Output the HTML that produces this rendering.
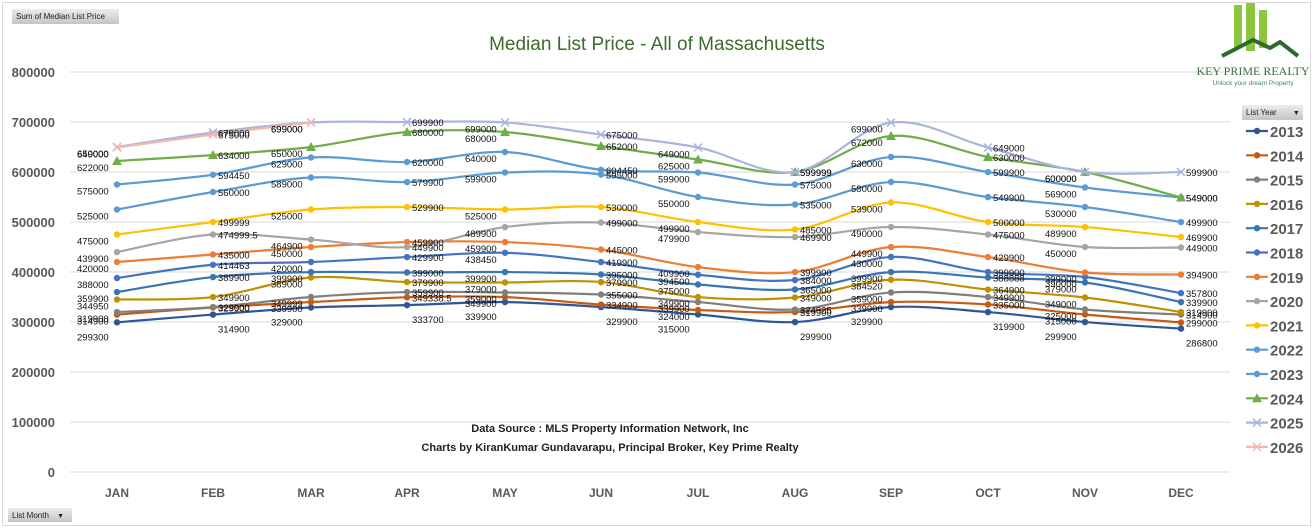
<!DOCTYPE html>
<html><head><meta charset="utf-8"><style>
body{margin:0;background:#fff;width:1313px;height:528px;overflow:hidden;font-family:"Liberation Sans",sans-serif}
.btn{position:absolute;background:linear-gradient(#ececec,#c4c4c4);font-size:8px;color:#222;padding:2px 4px;box-sizing:border-box;white-space:nowrap;overflow:hidden;line-height:11px}
</style></head><body>
<div style="position:absolute;left:2px;top:2px;width:1309px;height:524px;border:1px solid #d9d9d9;box-sizing:border-box"></div>
<div class="btn" style="left:12px;top:9px;width:107px;height:15px">Sum of Median List Price</div>
<div class="btn" style="left:8px;top:508px;width:64px;height:14px">List Month <span style="font-size:7px;margin-left:6px">▼</span></div>
<div class="btn" style="left:1242px;top:105px;width:61px;height:15px">List Year <span style="font-size:7px;margin-left:14px">▼</span></div>
<svg id="s" width="1313" height="528" style="position:absolute;left:0;top:0"></svg>
<script>
var X=[117,213,311,407,505,601,698,795,891,988,1085,1181];
function Y(v){return 472-v/2000;}
var S=[
["2013","#2f5597","o",[299300,314900,329000,333700,339900,329900,315000,299900,329900,319900,299900,286800]],
["2014","#c55a11","o",[314900,329000,339900,349338.5,349900,334900,324000,319900,339900,335000,315000,299000]],
["2015","#7f7f7f","o",[319900,329900,349999,359900,359000,355000,339900,324925,359000,349900,325000,314900]],
["2016","#bf9000","o",[344950,349900,389000,379900,379000,379900,349900,349000,384520,364900,349000,319900]],
["2017","#3a75b0","o",[359900,389900,399900,399000,399900,395000,375000,365000,399900,388888,379000,339900]],
["2018","#4472c4","o",[388000,414463,420000,429900,438450,419900,394500,384000,430000,399900,390000,357800]],
["2019","#ed7d31","o",[420000,435000,450000,459900,459900,445000,409900,399900,449900,429900,399000,394900]],
["2020","#a5a5a5","o",[439900,474999.5,464900,449900,489900,499000,479900,469900,490000,475000,450000,449000]],
["2021","#ffc000","o",[475000,499999,525000,529900,525000,530000,499900,485000,539000,500000,489900,469900]],
["2022","#5b9bd5","o",[525000,560000,589000,579900,599000,595000,550000,535000,580000,549900,530000,499900]],
["2023","#5b9bd5","o",[575000,594450,629000,620000,640000,604450,599000,575000,630000,599900,569000,549000]],
["2024","#70ad47","t",[622000,634000,650000,680000,680000,652000,625000,599999,672000,630000,600000,549000]],
["2025","#a9b4e0","x",[650000,679000,699000,699900,699000,675000,649000,599999,699000,649000,600000,599900]],
["2026","#f4b8a8","x",[649000,675000,699000]]];
var h='';
h+='<text x="657" y="50" font-size="19" fill="#3d6b2a" text-anchor="middle">Median List Price - All of Massachusetts</text>';
for(var v=0;v<=800000;v+=100000){var y=Y(v);h+='<line x1="70" x2="1230" y1="'+y+'" y2="'+y+'" stroke="#d9d9d9"/>';
h+='<text x="55" y="'+(y+5)+'" font-size="13" font-weight="bold" fill="#595959" text-anchor="end">'+v+'</text>';}
var M=["JAN","FEB","MAR","APR","MAY","JUN","JUL","AUG","SEP","OCT","NOV","DEC"];
M.forEach(function(m,i){h+='<text x="'+X[i]+'" y="497" font-size="12" font-weight="bold" fill="#595959" text-anchor="middle">'+m+'</text>';});
h+='<text x="610" y="432" font-size="11" font-weight="bold" fill="#222" text-anchor="middle">Data Source : MLS Property Information Network, Inc</text>';
h+='<text x="610" y="451" font-size="11" font-weight="bold" fill="#222" text-anchor="middle">Charts by KiranKumar Gundavarapu, Principal Broker, Key Prime Realty</text>';
function mk(t,x,y,c){if(t=="o")return '<circle cx="'+x+'" cy="'+y+'" r="3.2" fill="'+c+'"/>';
if(t=="t")return '<polygon points="'+x+','+(y-5)+' '+(x-5)+','+(y+4)+' '+(x+5)+','+(y+4)+'" fill="'+c+'"/>';
return '<path d="M'+(x-4)+' '+(y-4)+'L'+(x+4)+' '+(y+4)+'M'+(x-4)+' '+(y+4)+'L'+(x+4)+' '+(y-4)+'" stroke="'+c+'" stroke-width="1.5"/>';}
var L='';
S.forEach(function(s,k){var d=s[3],P=d.map(function(v,i){return [X[i],Y(v)];});
var p='M'+P[0][0]+' '+P[0][1];
for(var i=0;i<P.length-1;i++){var a=P[i-1]||P[i],b=P[i],c=P[i+1],e=P[i+2]||c;
p+=' C'+(b[0]+(c[0]-a[0])/6)+' '+(b[1]+(c[1]-a[1])/6)+' '+(c[0]-(e[0]-b[0])/6)+' '+(c[1]-(e[1]-b[1])/6)+' '+c[0]+' '+c[1];}
h+='<path d="'+p+'" fill="none" stroke="'+s[1]+'" stroke-width="2.2"/>';
P.forEach(function(q,i){h+=mk(s[2],q[0],q[1],s[1]);
L+='<text x="'+(q[0]+(i%2?5:-40))+'" y="'+(q[1]+(k==0?18:(i%2?4:10)))+'" font-size="9.5" fill="#111">'+d[i]+'</text>';});
var ly=131+24.3*k;
h+='<line x1="1246" x2="1268" y1="'+ly+'" y2="'+ly+'" stroke="'+s[1]+'" stroke-width="2.2"/>'+mk(s[2],1257,ly,s[1]);
h+='<text x="1270" y="'+(ly+6)+'" font-size="15" font-weight="bold" fill="#595959">'+s[0]+'</text>';});
h+=L;
h+='<g fill="#8cc63f"><rect x="1234" y="5" width="8" height="42"/><rect x="1246" y="3" width="9" height="48"/><rect x="1259" y="10" width="8" height="38"/></g>';
h+='<path d="M1222 56 L1253 40 L1270 48 L1280 42 L1298 56" fill="none" stroke="#2e6b2a" stroke-width="4"/>';
h+='<text x="1253" y="75" font-size="12" fill="#3a6b3a" text-anchor="middle" font-family="Liberation Serif">KEY PRIME REALTY</text>';
h+='<text x="1253" y="85" font-size="6.5" fill="#3a8a6a" text-anchor="middle">Unlock your dream Property</text>';
document.getElementById('s').innerHTML=h;
</script>
</body></html>
